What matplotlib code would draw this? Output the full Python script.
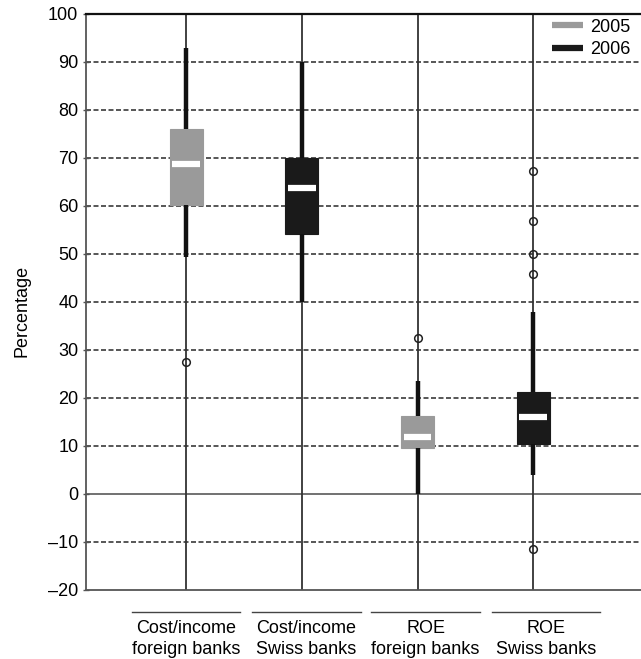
import numpy as np
import matplotlib.pyplot as plt
from matplotlib.lines import Line2D
from matplotlib.transforms import blended_transform_factory

plt.rcParams['font.family'] = ['Liberation Sans', 'DejaVu Sans']
plt.rcParams['font.size'] = 13

# Box statistics (percent)
categories = ['Cost/income\nforeign banks', 'Cost/income\nSwiss banks',
              'ROE\nforeign banks', 'ROE\nSwiss banks']
years = ['2005', '2006', '2005', '2006']
q1 = [60.2, 54.2, 9.6, 10.4]
median = [68.8, 63.8, 11.8, 16.0]
q3 = [76.0, 70.0, 16.3, 21.2]
whislo = [49.3, 40.0, 0.0, 4.0]
whishi = [93.0, 90.0, 23.5, 38.0]
fliers = [[27.5], [], [32.5], [67.3, 56.8, 50.0, 45.8, -11.5]]
yticks = [-20, -10, 0, 10, 20, 30, 40, 50, 60, 70, 80, 90, 100]

year_colors = {'2005': '#9a9a9a', '2006': '#1a1a1a'}

fig = plt.figure(figsize=(6.41, 6.59), dpi=100)
ax = fig.add_axes([86 / 641, 69 / 659, 1 - 86 / 641, 576 / 659])

positions = np.arange(1, len(categories) + 1)

# full-height vertical guide lines through each category
for p in positions:
    ax.axvline(p, color='#333333', lw=1.3, zorder=1)

# horizontal dashed grid, solid line at zero
for y in yticks:
    if y in (-20, 0, 100):
        continue
    ax.axhline(y, color='#3a3a3a', lw=1.2, ls=(0, (3, 1.5)), zorder=0.5)
ax.axhline(0, color='#666666', lw=1.3, zorder=0.5)

stats = []
for i in range(len(categories)):
    stats.append({'med': median[i], 'q1': q1[i], 'q3': q3[i],
                  'whislo': whislo[i], 'whishi': whishi[i], 'fliers': fliers[i]})

bp = ax.bxp(stats, positions=positions, widths=0.285, patch_artist=True,
            showcaps=False,
            whiskerprops=dict(color='#111111', lw=3.2, solid_capstyle='butt'),
            medianprops=dict(visible=False),
            flierprops=dict(marker='o', markersize=5.5, markerfacecolor='none',
                            markeredgecolor='#222222', markeredgewidth=1.1),
            zorder=3)
for patch, yr in zip(bp['boxes'], years):
    patch.set_facecolor(year_colors[yr])
    patch.set_edgecolor(year_colors[yr])
    patch.set_linewidth(0.8)
    patch.set_zorder(3)

# short white median bars
ax.hlines(median, positions - 0.12, positions + 0.12, color='white', lw=4.5, zorder=4)

ax.set_xlim(0.136, 4.93)
ax.set_ylim(-20, 100)
ax.set_yticks(yticks)
ax.set_yticklabels([str(t).replace('-', '\u2013') for t in yticks])
ax.tick_params(axis='y', direction='inout', length=5, width=1, color='#555555', pad=3)
ax.set_xticks([])
ax.set_ylabel('Percentage')
ax.yaxis.set_label_coords(-0.1, 0.485)

ax.spines['right'].set_visible(False)
ax.spines['top'].set_color('#111111')
ax.spines['top'].set_linewidth(1.6)
ax.spines['left'].set_color('#555555')
ax.spines['left'].set_linewidth(1.3)
ax.spines['bottom'].set_color('#555555')
ax.spines['bottom'].set_linewidth(1.3)

# category labels with a rule above each
trans = blended_transform_factory(ax.transData, ax.transAxes)
label_x = [1.0, 2.04, 3.07, 4.11]
for lx, lab in zip(label_x, categories):
    ax.add_line(Line2D([lx - 0.47, lx + 0.47], [-0.038, -0.038], transform=trans,
                       color='#444444', lw=1, clip_on=False))
    ax.text(lx, -0.052, lab, transform=trans, ha='center', va='top',
            linespacing=1.3, fontsize=13)

handles = [Line2D([], [], color=year_colors['2005'], lw=4.5, solid_capstyle='butt'),
           Line2D([], [], color=year_colors['2006'], lw=4.5, solid_capstyle='butt')]
ax.legend(handles, ['2005', '2006'], loc='upper right', frameon=False,
          bbox_to_anchor=(1.01, 1.02), handlelength=1.7, handletextpad=0.4,
          labelspacing=0.3, fontsize=13)

fig.savefig('out.png', dpi=100)
